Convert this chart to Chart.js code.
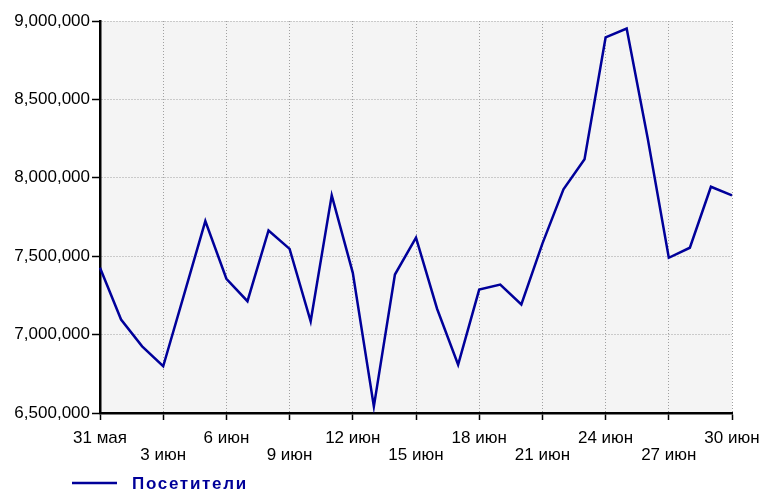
<!DOCTYPE html>
<html>
<head>
<meta charset="utf-8">
<script src="https://cdn.jsdelivr.net/npm/chart.js@4"></script>
<style>
  html, body { margin: 0; padding: 0; background: #fff; }
  #wrap { width: 760px; height: 493px; }
</style>
</head>
<body>
<div id="wrap"><canvas id="c" width="760" height="493"></canvas></div>
<script>
const categories = ['31 мая','1 июн','2 июн','3 июн','4 июн','5 июн','6 июн','7 июн','8 июн','9 июн','10 июн','11 июн','12 июн','13 июн','14 июн','15 июн','16 июн','17 июн','18 июн','19 июн','20 июн','21 июн','22 июн','23 июн','24 июн','25 июн','26 июн','27 июн','28 июн','29 июн','30 июн'];
const visitors = [7426000, 7096000, 6925000, 6798000, 7260000, 7724000, 7356000, 7213000, 7664000, 7547000, 7085000, 7888000, 7394000, 6542000, 7383000, 7618000, 7165000, 6808000, 7287000, 7319000, 7192000, 7580000, 7926000, 8118000, 8895000, 8952000, 8250000, 7490000, 7554000, 7943000, 7888000];
const seriesName = 'Посетители';
const yTicks = [6500000, 7000000, 7500000, 8000000, 8500000, 9000000];

const FONT = 'Liberation Sans';
const LINE_COLOR = '#00009a';

const bgPlugin = {
  id: 'plotBg',
  beforeDraw(chart) {
    const {ctx, chartArea: a} = chart;
    ctx.save();
    ctx.fillStyle = '#f4f4f4';
    ctx.fillRect(a.left, a.top, a.right - a.left, a.bottom - a.top);
    ctx.restore();
  }
};

const legendPlugin = {
  id: 'customLegend',
  afterDraw(chart) {
    const ctx = chart.ctx;
    ctx.save();
    ctx.strokeStyle = LINE_COLOR;
    ctx.lineWidth = 2.5;
    ctx.beginPath();
    ctx.moveTo(72, 483);
    ctx.lineTo(117, 483);
    ctx.stroke();
    ctx.fillStyle = '#000099';
    ctx.font = 'bold 17px "' + FONT + '"';
    if ('letterSpacing' in ctx) ctx.letterSpacing = '1.7px';
    ctx.textBaseline = 'middle';
    ctx.textAlign = 'left';
    ctx.fillText(chart.data.datasets[0].label, 132, 484);
    ctx.restore();
  }
};

new Chart(document.getElementById('c'), {
  type: 'line',
  data: {
    labels: categories,
    datasets: [{
      label: seriesName,
      data: visitors,
      borderColor: LINE_COLOR,
      backgroundColor: LINE_COLOR,
      borderWidth: 2.5,
      pointRadius: 0,
      tension: 0,
      fill: false
    }]
  },
  options: {
    responsive: false,
    animation: false,
    devicePixelRatio: 1,
    layout: { padding: { left: 0, right: 28, top: 21, bottom: 0 } },
    plugins: { legend: { display: false }, tooltip: { enabled: false } },
    scales: {
      x: {
        type: 'category',
        offset: false,
        grid: {
          color: ctx => (ctx.index % 3 === 0 ? '#a0a0a0' : 'transparent'),
          lineWidth: 1,
          tickColor: ctx => (ctx.index % 3 === 0 ? '#000' : 'transparent'),
          tickLength: 7,
          tickWidth: 1.5
        },
        border: { display: true, color: '#000', width: 2.5, dash: [1, 2] },
        ticks: {
          autoSkip: false,
          maxRotation: 0,
          minRotation: 0,
          padding: 10,
          color: '#000',
          font: { family: FONT, size: 17, lineHeight: 1 },
          callback: function (val, i) {
            if (i % 3 !== 0) return '';
            const lab = categories[i];
            return (i / 3) % 2 === 1 ? ['', lab] : lab;
          }
        },
        afterFit(scale) { scale.height = 80; scale.paddingLeft = 0; scale.paddingRight = 0; }
      },
      y: {
        min: 6500000,
        max: 9000000,
        afterBuildTicks(scale) { scale.ticks = yTicks.map(v => ({ value: v })); },
        grid: {
          color: '#a0a0a0',
          lineWidth: 1,
          tickColor: '#000',
          tickLength: 8,
          tickWidth: 1.5
        },
        border: { display: true, color: '#000', width: 2.5, dash: [1, 2] },
        ticks: {
          padding: 2,
          color: '#000',
          font: { family: FONT, size: 17 },
          callback: v => Number(v).toLocaleString('en-US')
        },
        afterFit(scale) { scale.width = 100; scale.paddingTop = 0; scale.paddingBottom = 0; }
      }
    }
  },
  plugins: [bgPlugin, legendPlugin]
});
</script>
</body>
</html>
